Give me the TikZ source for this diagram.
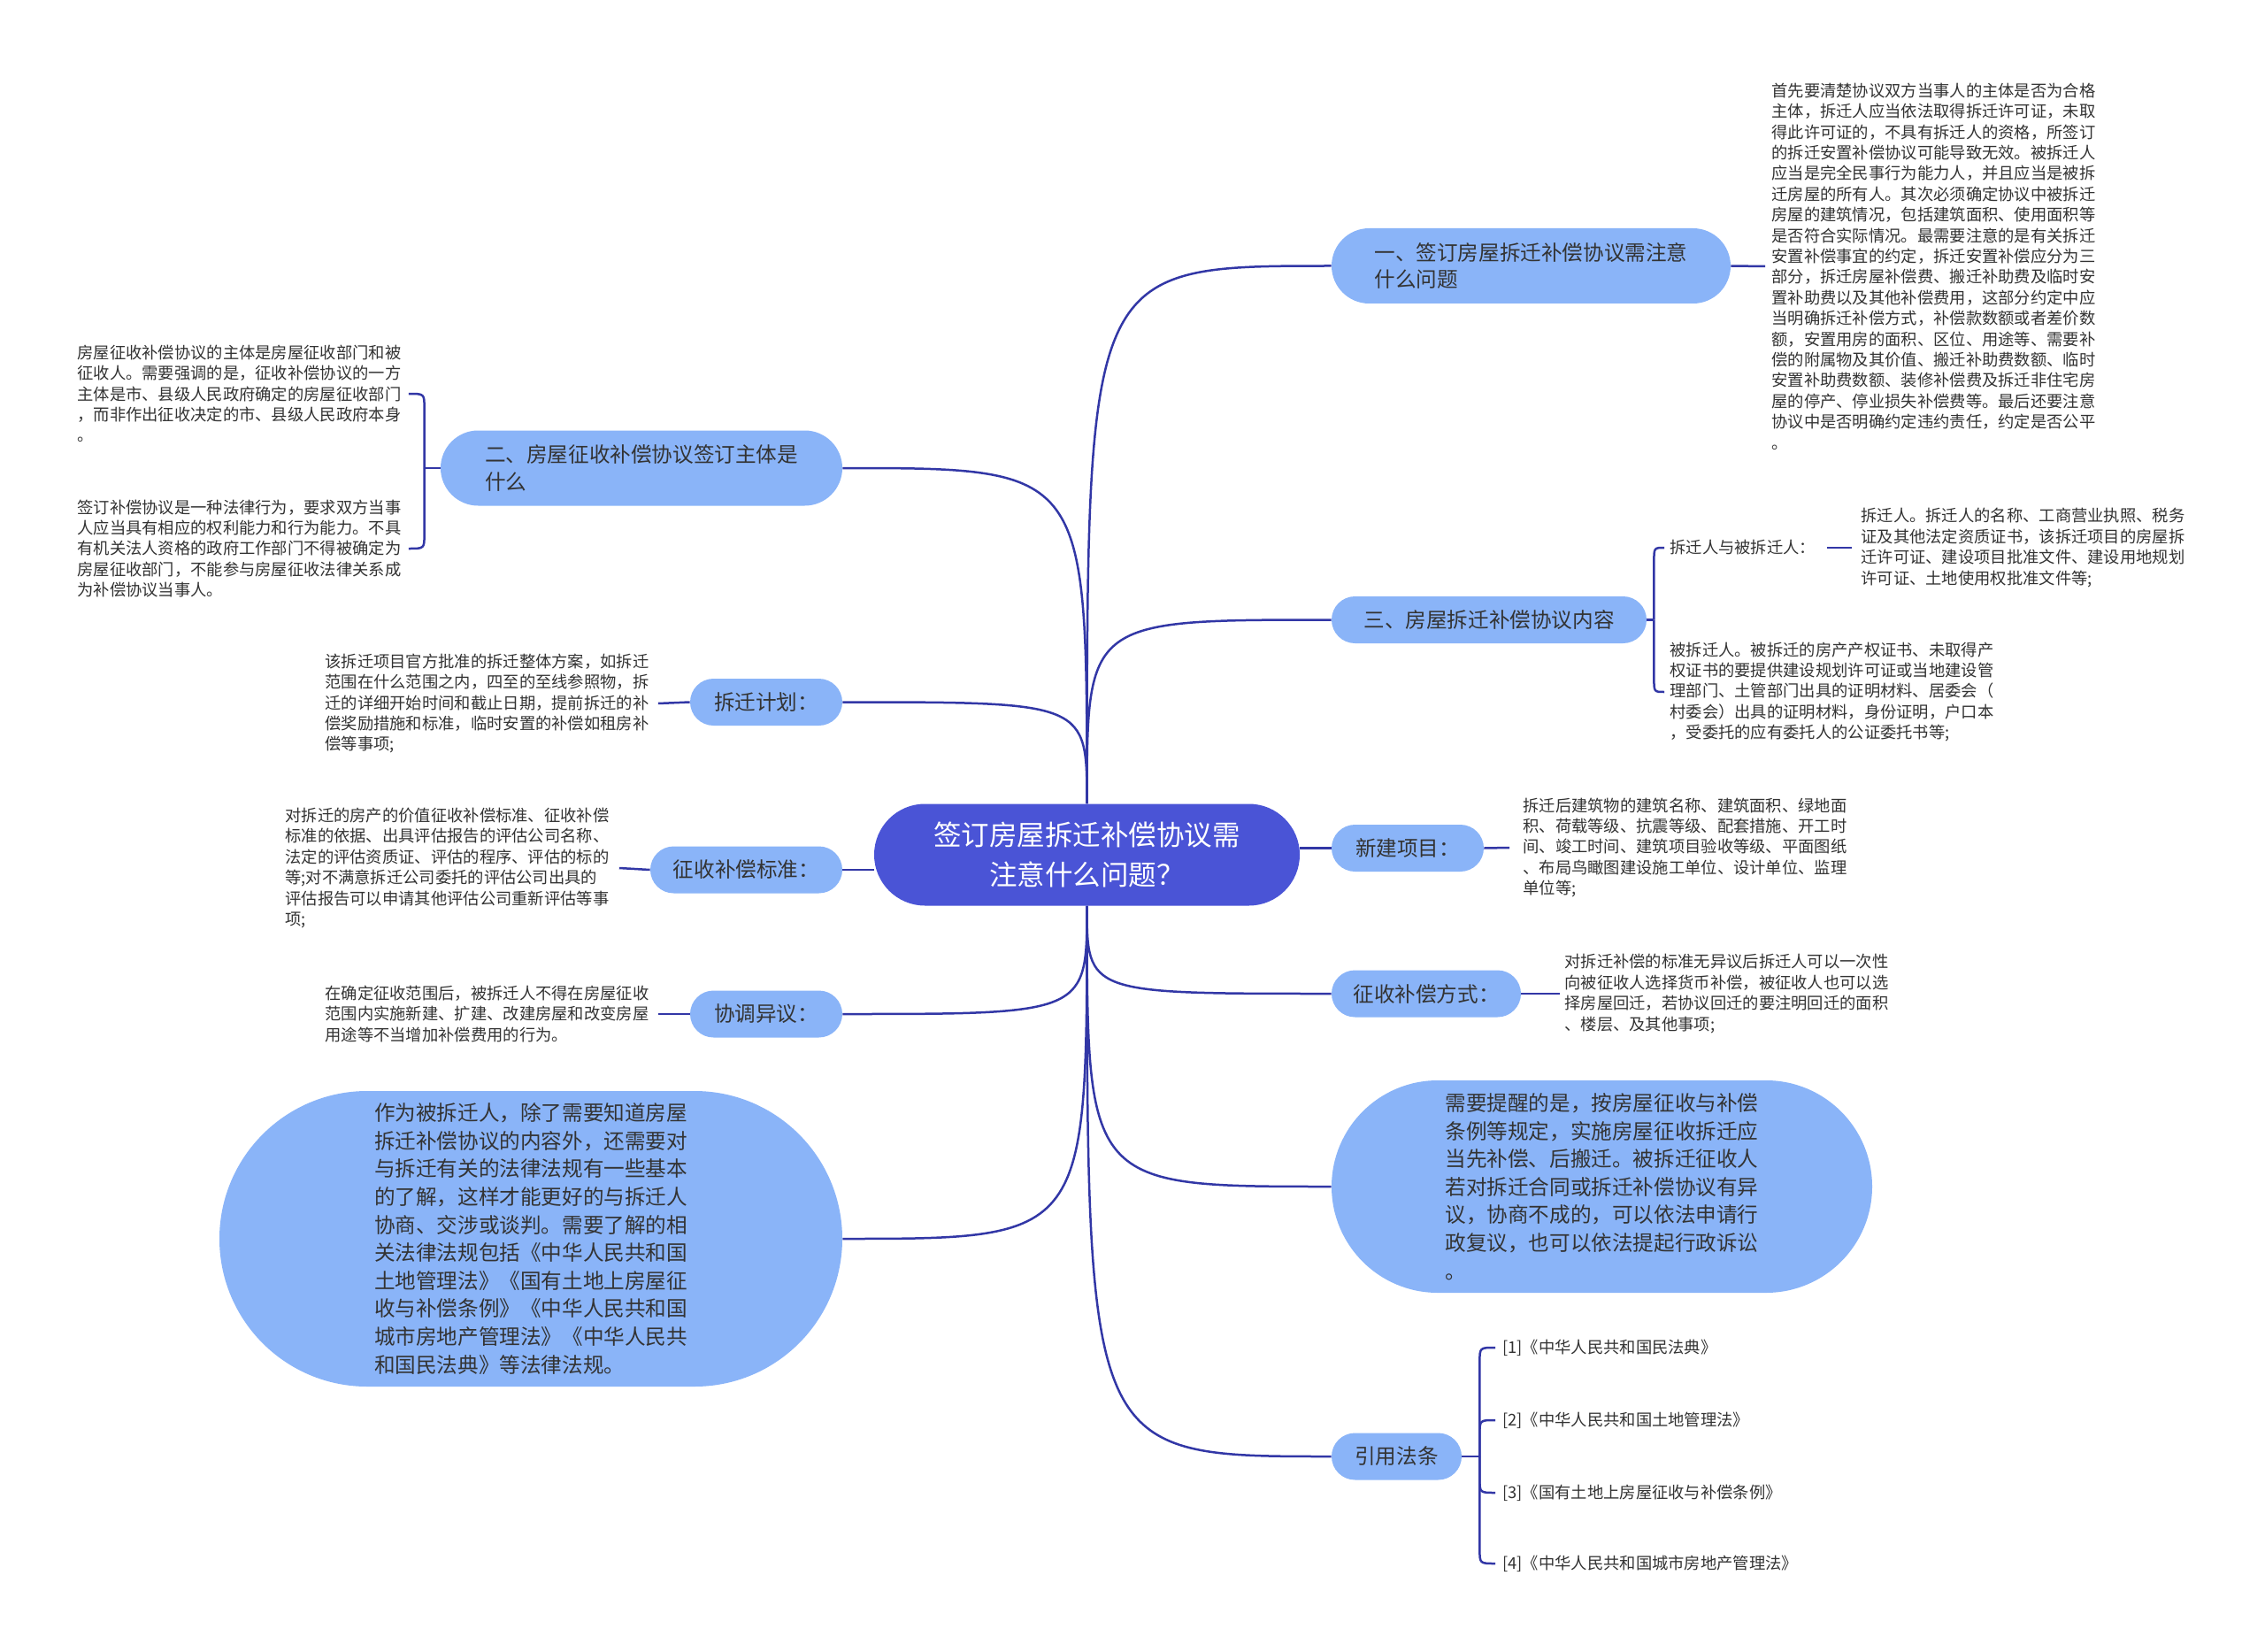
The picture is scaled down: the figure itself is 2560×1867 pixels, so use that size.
\documentclass[tikz,border=0pt]{standalone}
\usepackage{fontspec}
\setmainfont{Noto Sans CJK SC}
\usetikzlibrary{backgrounds,calc}
\definecolor{lc}{HTML}{3237A6}
\definecolor{hubc}{HTML}{4A54D6}
\definecolor{brc}{HTML}{8AB4F8}
\definecolor{txc}{HTML}{333333}
\newcommand\parfont{\fontsize{9.15pt}{11.7pt}\selectfont}
\newcommand\brfont{\fontsize{11.8pt}{15.3pt}\selectfont}
\newcommand\bigfont{\fontsize{11.8pt}{15.8pt}\selectfont}
\newcommand\hubfont{\fontsize{15.75pt}{22.5pt}\selectfont}
\begin{document}
\begin{tikzpicture}[x=0.5pt,y=-0.5pt,
  conn/.style={draw=lc, line width=1.25pt},
  hub/.style={rectangle, rounded corners=28.75pt, fill=hubc, text=white, minimum width=240.5pt, minimum height=57.5pt, align=center, font=\hubfont, inner sep=0pt},
  brone/.style={rectangle, rounded corners=13.25pt, fill=brc, text=txc, minimum height=26.5pt, align=left, font=\brfont, inner sep=0pt},
  brtwo/.style={rectangle, rounded corners=21.25pt, fill=brc, text=txc, minimum height=42.5pt, align=left, font=\brfont, inner sep=0pt},
  brbig/.style={rectangle, fill=brc, text=txc, align=left, font=\bigfont, inner sep=0pt},
  para/.style={align=left, text=txc, font=\parfont, inner sep=0pt}]
\useasboundingbox (0,0) rectangle (2560,1867);

% hub
\node[hub] (c) at (1228.5,966) {签订房屋拆迁补偿协议需\\注意什么问题？};

% right side
\node[brtwo, minimum width=225.5pt] (b1) at (1730.5,300.5) {一、签订房屋拆迁补偿协议需注意\\什么问题};
\node[para, anchor=west] (p1) at (2002,301) {首先要清楚协议双方当事人的主体是否为合格\\
主体，拆迁人应当依法取得拆迁许可证，未取\\
得此许可证的，不具有拆迁人的资格，所签订\\
的拆迁安置补偿协议可能导致无效。被拆迁人\\
应当是完全民事行为能力人，并且应当是被拆\\
迁房屋的所有人。其次必须确定协议中被拆迁\\
房屋的建筑情况，包括建筑面积、使用面积等\\
是否符合实际情况。最需要注意的是有关拆迁\\
安置补偿事宜的约定，拆迁安置补偿应分为三\\
部分，拆迁房屋补偿费、搬迁补助费及临时安\\
置补助费以及其他补偿费用，这部分约定中应\\
当明确拆迁补偿方式，补偿款数额或者差价数\\
额，安置用房的面积、区位、用途等、需要补\\
偿的附属物及其价值、搬迁补助费数额、临时\\
安置补助费数额、装修补偿费及拆迁非住宅房\\
屋的停产、停业损失补偿费等。最后还要注意\\
协议中是否明确约定违约责任，约定是否公平\\
。};

\node[brone, minimum width=178pt] (b3) at (1683,700.5) {三、房屋拆迁补偿协议内容};
\node[para, anchor=west] (t3a) at (1887,619) {拆迁人与被拆迁人：};
\node[para, anchor=west] (p3a) at (2103,619) {拆迁人。拆迁人的名称、工商营业执照、税务\\
证及其他法定资质证书，该拆迁项目的房屋拆\\
迁许可证、建设项目批准文件、建设用地规划\\
许可证、土地使用权批准文件等;};
\node[para, anchor=west] (p3b) at (1887,782) {被拆迁人。被拆迁的房产产权证书、未取得产\\
权证书的要提供建设规划许可证或当地建设管\\
理部门、土管部门出具的证明材料、居委会（\\
村委会）出具的证明材料，身份证明，户口本\\
，受委托的应有委托人的公证委托书等;};

\node[brone, minimum width=86pt] (b4) at (1591,958.5) {新建项目：};
\node[para, anchor=west] (p4) at (1721,958) {拆迁后建筑物的建筑名称、建筑面积、绿地面\\
积、荷载等级、抗震等级、配套措施、开工时\\
间、竣工时间、建筑项目验收等级、平面图纸\\
、布局鸟瞰图建设施工单位、设计单位、监理\\
单位等;};

\node[brone, minimum width=107pt] (b5) at (1612,1123) {征收补偿方式：};
\node[para, anchor=west] (p5) at (1768,1123) {对拆迁补偿的标准无异议后拆迁人可以一次性\\
向被征收人选择货币补偿，被征收人也可以选\\
择房屋回迁，若协议回迁的要注明回迁的面积\\
、楼层、及其他事项;};

\node[brbig, rounded corners=60pt, minimum width=305.5pt, minimum height=120pt] (b6) at (1810.5,1341) {需要提醒的是，按房屋征收与补偿\\
条例等规定，实施房屋征收拆迁应\\
当先补偿、后搬迁。被拆迁征收人\\
若对拆迁合同或拆迁补偿协议有异\\
议，协商不成的，可以依法申请行\\
政复议，也可以依法提起行政诉讼\\
。};

\node[brone, minimum width=73.5pt] (b7) at (1578.5,1646) {引用法条};
\node[para, anchor=west] (r1) at (1698,1523) {[1]《中华人民共和国民法典》};
\node[para, anchor=west] (r2) at (1698,1605) {[2]《中华人民共和国土地管理法》};
\node[para, anchor=west] (r3) at (1698,1687) {[3]《国有土地上房屋征收与补偿条例》};
\node[para, anchor=west] (r4) at (1698,1767) {[4]《中华人民共和国城市房地产管理法》};

% left side
\node[brtwo, minimum width=227pt] (l1) at (725,529) {二、房屋征收补偿协议签订主体是\\什么};
\node[para, anchor=west] (lp1a) at (87,445) {房屋征收补偿协议的主体是房屋征收部门和被\\
征收人。需要强调的是，征收补偿协议的一方\\
主体是市、县级人民政府确定的房屋征收部门\\
，而非作出征收决定的市、县级人民政府本身\\
。};
\node[para, anchor=west] (lp1b) at (87,620) {签订补偿协议是一种法律行为，要求双方当事\\
人应当具有相应的权利能力和行为能力。不具\\
有机关法人资格的政府工作部门不得被确定为\\
房屋征收部门，不能参与房屋征收法律关系成\\
为补偿协议当事人。};

\node[brone, minimum width=86pt] (l2) at (866,793.5) {拆迁计划：};
\node[para, anchor=west] (lp2) at (367,795) {该拆迁项目官方批准的拆迁整体方案，如拆迁\\
范围在什么范围之内，四至的至线参照物，拆\\
迁的详细开始时间和截止日期，提前拆迁的补\\
偿奖励措施和标准，临时安置的补偿如租房补\\
偿等事项;};

\node[brone, minimum width=108.5pt] (l3) at (843.5,983) {征收补偿标准：};
\node[para, anchor=west] (lp3) at (322,981) {对拆迁的房产的价值征收补偿标准、征收补偿\\
标准的依据、出具评估报告的评估公司名称、\\
法定的评估资质证、评估的程序、评估的标的\\
等;对不满意拆迁公司委托的评估公司出具的\\
评估报告可以申请其他评估公司重新评估等事\\
项;};

\node[brone, minimum width=86pt] (l4) at (866,1146) {协调异议：};
\node[para, anchor=west] (lp4) at (367,1146) {在确定征收范围后，被拆迁人不得在房屋征收\\
范围内实施新建、扩建、改建房屋和改变房屋\\
用途等不当增加补偿费用的行为。};

\node[brbig, rounded corners=83.5pt, minimum width=352pt, minimum height=167pt] (l5) at (600,1400) {作为被拆迁人，除了需要知道房屋\\
拆迁补偿协议的内容外，还需要对\\
与拆迁有关的法律法规有一些基本\\
的了解，这样才能更好的与拆迁人\\
协商、交涉或谈判。需要了解的相\\
关法律法规包括《中华人民共和国\\
土地管理法》《国有土地上房屋征\\
收与补偿条例》《中华人民共和国\\
城市房地产管理法》《中华人民共\\
和国民法典》等法律法规。};

\begin{scope}[on background layer]
\fill[white] (0,0) rectangle (2560,1867);
% hub connectors
\draw[conn] (c.north) .. controls (c.north |- b1.west) .. (b1.west);
\draw[conn] (c.north) .. controls (c.north |- b3.west) .. (b3.west);
\draw[conn] (c.north) .. controls (c.north |- l1.east) .. (l1.east);
\draw[conn] (c.north) .. controls (c.north |- l2.east) .. (l2.east);
\draw[conn] (c.east |- b4.west) -- (b4.west);
\draw[conn] (c.west |- l3.east) -- (l3.east);
\draw[conn] (c.south) .. controls (c.south |- b5.west) .. (b5.west);
\draw[conn] (c.south) .. controls (c.south |- b6.west) .. (b6.west);
\draw[conn] (c.south) .. controls (c.south |- b7.west) .. (b7.west);
\draw[conn] (c.south) .. controls (c.south |- l4.east) .. (l4.east);
\draw[conn] (c.south) .. controls (c.south |- l5.east) .. (l5.east);
% leaf connectors
\draw[conn] (b1.east) -- ([xshift=-3.5pt]p1.west);
\draw[conn] (b4.east) -- ([xshift=-7.5pt]p4.west);
\draw[conn] (b5.east) -- ([xshift=-2.5pt]p5.west);
\draw[conn] (l2.west) -- ([xshift=5pt]lp2.east);
\draw[conn] (l3.west) -- ([xshift=5.5pt]lp3.east);
\draw[conn] (l4.west) -- ([xshift=5pt]lp4.east);
\draw[conn] ([xshift=6pt]t3a.east) -- ([xshift=-5pt]p3a.west);
% bracket of section three
\coordinate (s3) at ($(b3.east)+(4pt,0)$);
\draw[conn] (b3.east) -- (s3);
\draw[conn] (s3) -- ($(s3 |- t3a.west)+(0,-8pt)$) .. controls (s3 |- t3a.west) .. ([xshift=-3pt]t3a.west);
\draw[conn] (s3) -- ($(s3 |- p3b.west)+(0,8pt)$) .. controls (s3 |- p3b.west) .. ([xshift=-3pt]p3b.west);
% bracket of section two
\coordinate (s2) at ($(l1.west)+(-9pt,0)$);
\draw[conn] (l1.west) -- (s2);
\draw[conn] (s2) -- ($(s2 |- lp1a.east)+(0,-8pt)$) .. controls (s2 |- lp1a.east) .. ([xshift=4pt]lp1a.east);
\draw[conn] (s2) -- ($(s2 |- lp1b.east)+(0,8pt)$) .. controls (s2 |- lp1b.east) .. ([xshift=4pt]lp1b.east);
% bracket of references
\coordinate (s7) at ($(b7.east)+(10pt,0)$);
\draw[conn] (b7.east) -- (s7);
\draw[conn] (s7) -- ($(s7 |- r1.west)+(0,-8pt)$) .. controls (s7 |- r1.west) .. ([xshift=-4pt]r1.west);
\draw[conn] (s7) -- ($(s7 |- r2.west)+(0,-8pt)$) .. controls (s7 |- r2.west) .. ([xshift=-4pt]r2.west);
\draw[conn] (s7) -- ($(s7 |- r3.west)+(0,8pt)$) .. controls (s7 |- r3.west) .. ([xshift=-4pt]r3.west);
\draw[conn] (s7) -- ($(s7 |- r4.west)+(0,8pt)$) .. controls (s7 |- r4.west) .. ([xshift=-4pt]r4.west);
\end{scope}
\end{tikzpicture}
\end{document}
